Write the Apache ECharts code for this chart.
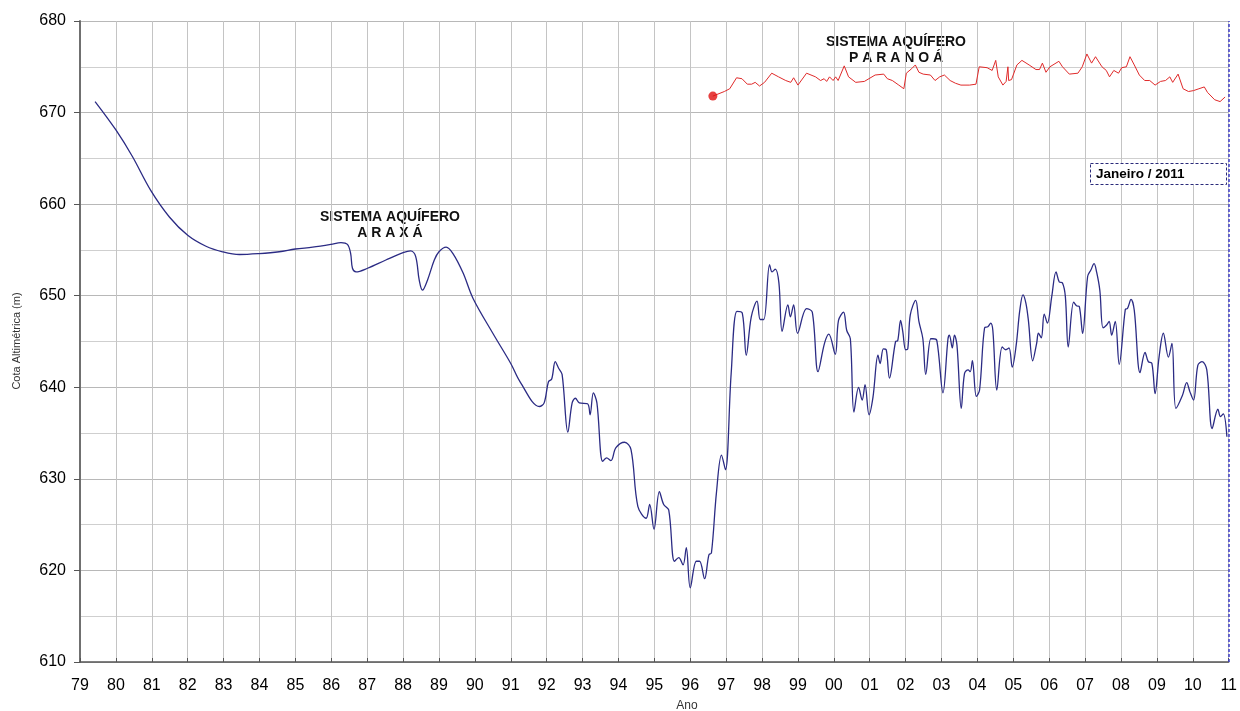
<!DOCTYPE html>
<html>
<head>
<meta charset="utf-8">
<title>Cota Altimétrica</title>
<script src="https://cdn.jsdelivr.net/npm/echarts/dist/echarts.min.js"></script>
<style>
    html, body {margin: 0; padding: 0; background: #fff;}
    #chart {width: 1240px; height: 711px;}
</style>
</head>
<body>
<div id="chart"></div>
<script>
// Sistema Aquífero Araxá (linha azul)
let araxaYears = [
    1979.42, 1980.0, 1980.46, 1980.97, 1981.49, 1982.0, 1982.51, 1982.97, 1983.44, 1983.99,
    1984.55, 1985.0, 1985.48, 1985.99, 1986.27, 1986.45, 1986.54, 1986.59, 1986.69, 1987.01,
    1987.52, 1988.0, 1988.21, 1988.35, 1988.45, 1988.54, 1988.68, 1988.87, 1989.0, 1989.2,
    1989.39, 1989.67, 1989.95, 1990.5, 1991.0, 1991.26, 1991.8, 1991.93, 1992.05, 1992.14,
    1992.24, 1992.33, 1992.43, 1992.59, 1992.71, 1992.8, 1992.91, 1993.14, 1993.21, 1993.3,
    1993.4, 1993.56, 1993.67, 1993.79, 1993.93, 1994.17, 1994.35, 1994.54, 1994.77, 1994.87,
    1994.99, 1995.14, 1995.26, 1995.4, 1995.56, 1995.68, 1995.8, 1995.89, 1996.0, 1996.17,
    1996.26, 1996.4, 1996.52, 1996.59, 1996.73, 1996.87, 1996.98, 1997.14, 1997.3, 1997.45,
    1997.56, 1997.7, 1997.86, 1997.95, 1998.05, 1998.21, 1998.28, 1998.37, 1998.47, 1998.56,
    1998.72, 1998.79, 1998.88, 1998.99, 1999.24, 1999.4, 1999.56, 1999.74, 1999.86, 2000.04,
    2000.13, 2000.27, 2000.36, 2000.46, 2000.56, 2000.69, 2000.79, 2000.87, 2000.98, 2001.09,
    2001.23, 2001.29, 2001.38, 2001.46, 2001.55, 2001.72, 2001.78, 2001.86, 2001.92, 2002.0,
    2002.06, 2002.13, 2002.28, 2002.37, 2002.48, 2002.56, 2002.7, 2002.76, 2002.87, 2003.04,
    2003.18, 2003.22, 2003.3, 2003.36, 2003.43, 2003.55, 2003.64, 2003.74, 2003.8, 2003.86,
    2003.97, 2004.06, 2004.2, 2004.29, 2004.37, 2004.43, 2004.54, 2004.69, 2004.79, 2004.88,
    2004.97, 2005.08, 2005.18, 2005.27, 2005.35, 2005.42, 2005.54, 2005.65, 2005.7, 2005.78,
    2005.86, 2005.95, 2006.07, 2006.19, 2006.28, 2006.37, 2006.45, 2006.53, 2006.68, 2006.76,
    2006.84, 2006.93, 2007.07, 2007.16, 2007.25, 2007.32, 2007.41, 2007.5, 2007.6, 2007.67,
    2007.74, 2007.84, 2007.95, 2008.12, 2008.18, 2008.28, 2008.37, 2008.53, 2008.67, 2008.76,
    2008.86, 2008.95, 2009.06, 2009.18, 2009.32, 2009.42, 2009.53, 2009.71, 2009.83, 2009.92,
    2010.02, 2010.14, 2010.26, 2010.39, 2010.54, 2010.7, 2010.77, 2010.85, 2010.95
]
let araxaLevels = [
    671.2, 668.1, 665.2, 661.5, 658.6, 656.6, 655.4, 654.8, 654.5, 654.6,
    654.8, 655.1, 655.3, 655.6, 655.8, 655.6, 654.6, 653.0, 652.6, 653.0,
    653.9, 654.7, 654.9, 654.3, 651.7, 650.6, 651.7, 653.9, 654.8, 655.3,
    654.6, 652.5, 649.7, 645.9, 642.6, 640.6, 637.9, 638.3, 640.6, 640.9,
    642.8, 642.1, 641.4, 635.1, 638.3, 638.8, 638.3, 638.2, 637.0, 639.4,
    638.3, 631.9, 632.3, 632.0, 633.4, 634.0, 633.2, 627.0, 625.7, 627.2,
    624.5, 628.6, 627.2, 626.6, 621.0, 621.4, 620.6, 622.5, 618.1, 621.0,
    621.0, 619.1, 621.7, 621.9, 628.5, 632.6, 631.0, 641.5, 648.3, 648.1,
    643.5, 647.7, 649.4, 647.4, 647.4, 653.4, 652.6, 652.9, 651.4, 646.1,
    649.0, 647.7, 649.0, 645.9, 648.6, 648.2, 641.7, 644.8, 645.8, 643.6,
    647.3, 648.2, 646.2, 645.3, 637.3, 640.0, 638.6, 640.3, 637.0, 638.9,
    643.5, 642.6, 644.2, 644.1, 641.0, 645.0, 645.1, 647.3, 646.1, 644.1,
    644.2, 647.9, 649.5, 647.2, 645.3, 641.4, 645.3, 645.3, 645.1, 639.4,
    645.3, 645.7, 644.3, 645.7, 644.6, 637.7, 641.5, 641.9, 641.7, 642.9,
    639.0, 639.7, 646.5, 646.6, 647.0, 646.2, 639.7, 644.4, 644.1, 644.3,
    642.2, 644.6, 648.4, 650.1, 649.2, 647.3, 642.9, 644.8, 645.9, 645.4,
    648.0, 647.0, 649.9, 652.6, 651.5, 651.4, 649.9, 644.4, 649.3, 648.9,
    648.8, 645.9, 652.1, 652.8, 653.5, 652.6, 650.6, 646.5, 646.8, 647.2,
    645.7, 647.2, 642.5, 648.5, 648.6, 649.6, 648.4, 641.6, 643.8, 642.8,
    642.6, 639.3, 643.3, 645.9, 643.3, 644.8, 637.7, 639.1, 640.5, 639.5,
    638.6, 642.4, 642.8, 641.9, 635.5, 637.6, 636.8, 637.1, 634.6
]

// Sistema Aquífero Paranoá (linha vermelha)
let paranoaYears = [
    1996.63, 1996.95, 1997.10, 1997.29, 1997.44, 1997.59, 1997.71, 1997.81, 1997.93, 1998.07,
    1998.27, 1998.46, 1998.66, 1998.80, 1998.88, 1999.00, 1999.24, 1999.49, 1999.63, 1999.73,
    1999.80, 1999.88, 1999.98, 2000.05, 2000.12, 2000.29, 2000.41, 2000.61, 2000.85, 2001.15,
    2001.39, 2001.49, 2001.63, 2001.81, 2001.95, 2002.02, 2002.17, 2002.27, 2002.37, 2002.49,
    2002.69, 2002.82, 2002.95, 2003.08, 2003.24, 2003.39, 2003.54, 2003.78, 2003.96, 2004.05,
    2004.27, 2004.41, 2004.51, 2004.58, 2004.71, 2004.80, 2004.85, 2004.87, 2004.95, 2005.10,
    2005.24, 2005.44, 2005.63, 2005.73, 2005.81, 2005.91, 2006.02, 2006.27, 2006.37, 2006.56,
    2006.80, 2006.92, 2007.05, 2007.18, 2007.29, 2007.47, 2007.59, 2007.68, 2007.80, 2007.93,
    2008.02, 2008.15, 2008.25, 2008.37, 2008.51, 2008.66, 2008.80, 2008.95, 2009.10, 2009.24,
    2009.36, 2009.44, 2009.59, 2009.73, 2009.88, 2010.02, 2010.17, 2010.32, 2010.41, 2010.61,
    2010.76, 2010.90
]
let paranoaLevels = [
    671.8, 672.3, 672.6, 673.8, 673.7, 673.1, 673.1, 673.3, 672.9, 673.3,
    674.3, 673.9, 673.5, 673.3, 673.8, 673.0, 674.3, 673.9, 673.5, 673.7,
    673.4, 673.9, 673.5, 673.9, 673.5, 675.1, 673.9, 673.3, 673.4, 674.1,
    674.2, 673.7, 673.5, 673.0, 672.6, 674.3, 674.8, 675.2, 674.4, 674.2,
    674.1, 673.5, 673.9, 674.1, 673.5, 673.2, 673.0, 673.0, 673.1, 675.0,
    674.9, 674.6, 675.7, 673.9, 673.0, 673.4, 675.0, 673.5, 673.6, 675.2,
    675.7, 675.2, 674.7, 674.7, 675.4, 674.4, 675.0, 675.6, 675.0, 674.2,
    674.3, 675.0, 676.4, 675.4, 676.1, 675.0, 674.6, 673.9, 674.6, 674.3,
    674.9, 675.0, 676.1, 675.2, 674.1, 673.5, 673.5, 673.0, 673.4, 673.5,
    673.9, 673.3, 674.2, 672.6, 672.3, 672.4, 672.6, 672.8, 672.2, 671.4,
    671.2, 671.7
]

let yearMin = 1979
let yearMax = 2011
let levelMin = 610
let levelMax = 680
let markYear = 2011

let zip = (xs, ys) => xs.map((x, i) => [x, ys[i]])

let myChart = echarts.init(document.getElementById('chart'), null, {renderer: 'canvas'})

let noteFont = 'bold 14px Liberation Sans, Arial, sans-serif'

let option = {
    backgroundColor: '#ffffff',
    animation: false,
    textStyle: {fontFamily: 'Liberation Sans, Arial, sans-serif'},
    grid: {left: 80, right: 11, top: 21, bottom: 49, containLabel: false},
    xAxis: {
        type: 'value',
        min: yearMin,
        max: yearMax,
        interval: 1,
        axisLine: {show: true, lineStyle: {color: '#555', width: 1.5}},
        axisTick: {show: true, inside: true, length: 4, lineStyle: {color: '#555'}},
        axisLabel: {
            color: '#000',
            fontSize: 16,
            margin: 16,
            formatter: (v) => String(v % 100).padStart(2, '0')
        },
        splitLine: {show: true, lineStyle: {color: '#c4c4c4', width: 1}}
    },
    yAxis: {
        type: 'value',
        min: levelMin,
        max: levelMax,
        interval: 10,
        axisLine: {show: true, lineStyle: {color: '#707070', width: 2}},
        axisTick: {show: true, inside: false, length: 6, lineStyle: {color: '#555'}},
        axisLabel: {color: '#000', fontSize: 16, margin: 14},
        splitLine: {show: true, lineStyle: {color: '#b8b8b8', width: 1}},
        minorTick: {show: false, splitNumber: 2},
        minorSplitLine: {show: true, lineStyle: {color: '#cfcfcf', width: 1}}
    },
    series: [
        {
            name: 'Araxá',
            type: 'line',
            data: zip(araxaYears, araxaLevels),
            smooth: 0.35,
            showSymbol: false,
            lineStyle: {color: '#2b2b84', width: 1.3},
            markLine: {
                silent: true,
                symbol: 'none',
                label: {show: false},
                lineStyle: {color: '#3c3cc8', type: [3, 2], width: 1.5},
                data: [{xAxis: markYear}]
            },
            z: 3
        },
        {
            name: 'Paranoá',
            type: 'line',
            data: zip(paranoaYears, paranoaLevels),
            showSymbol: false,
            lineStyle: {color: '#e02a2a', width: 1},
            z: 3
        },
        {
            name: 'Paranoá início',
            type: 'scatter',
            data: [[paranoaYears[0], paranoaLevels[0]]],
            symbol: 'circle',
            symbolSize: 9,
            itemStyle: {color: '#e01010'},
            z: 4
        }
    ],
    graphic: [
        {
            type: 'text',
            x: 390, y: 209,
            style: {
                text: 'SISTEMA AQUÍFERO\nA R A X Á',
                font: noteFont,
                fill: '#111', align: 'center', lineHeight: 16
            }
        },
        {
            type: 'text',
            x: 896, y: 34,
            style: {
                text: 'SISTEMA AQUÍFERO\nP A R A N O Á',
                font: noteFont,
                fill: '#111', align: 'center', lineHeight: 16
            }
        },
        {
            type: 'rect',
            shape: {x: 1090.5, y: 163.5, width: 136, height: 21},
            style: {fill: '#fff', stroke: '#2a2a7a', lineWidth: 1, lineDash: [3, 2]},
            z: 10
        },
        {
            type: 'text',
            x: 1096, y: 174,
            style: {
                text: 'Janeiro / 2011',
                font: 'bold 13.5px Liberation Sans, Arial, sans-serif',
                fill: '#000', verticalAlign: 'middle'
            },
            z: 11
        },
        {
            type: 'text',
            x: 687, y: 706,
            style: {
                text: 'Ano',
                font: '12px Liberation Sans, Arial, sans-serif',
                fill: '#333', align: 'center', verticalAlign: 'middle'
            }
        },
        {
            type: 'text',
            x: 17, y: 341,
            rotation: Math.PI / 2,
            style: {
                text: 'Cota Altimétrica (m)',
                font: '11px Liberation Sans, Arial, sans-serif',
                fill: '#333', align: 'center', verticalAlign: 'middle'
            }
        }
    ]
}

myChart.setOption(option)
</script>
</body>
</html>
